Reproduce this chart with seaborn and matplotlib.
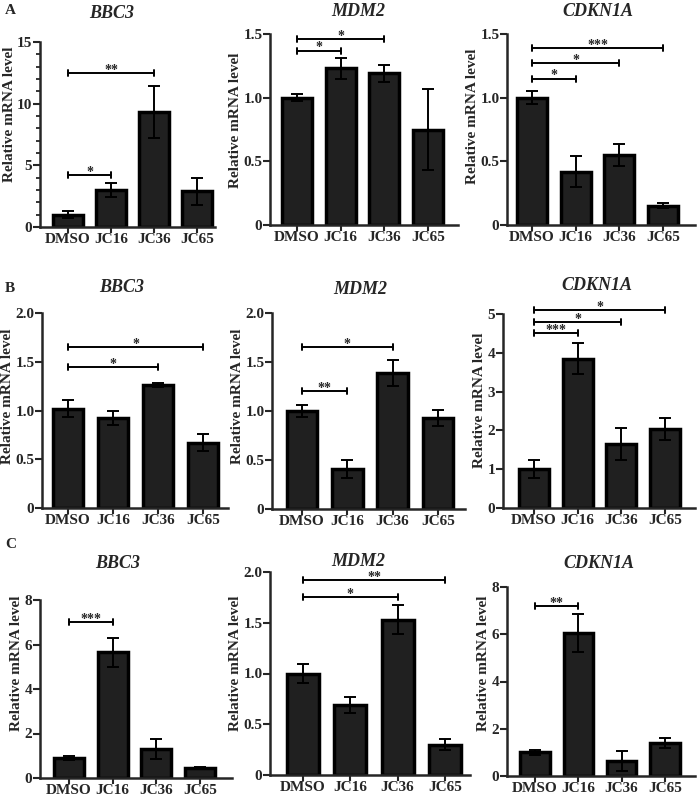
import numpy as np
import pandas as pd
import matplotlib
matplotlib.use('Agg')
import matplotlib.pyplot as plt
import seaborn as sns

sns.set_style('ticks')
plt.rcParams['font.family'] = ['Liberation Serif', 'DejaVu Serif']
plt.rcParams['font.weight'] = 'bold'
#----------------------------------------------------------------------------------------------------------------
groups = ['DMSO', 'JC16', 'JC36', 'JC65']
genes = ['BBC3', 'MDM2', 'CDKN1A']
rows = ['A', 'B', 'C']

# mean values per panel (row, gene)
means_A = [[1.0, 3.0, 9.3, 2.9], [1.0, 1.23, 1.19, 0.75], [1.0, 0.42, 0.55, 0.15]]
errs_A = [[0.3, 0.55, 2.1, 1.1], [0.03, 0.08, 0.07, 0.32], [0.05, 0.12, 0.09, 0.02]]
means_B = [[1.02, 0.92, 1.26, 0.67], [1.0, 0.41, 1.39, 0.93], [1.0, 3.85, 1.65, 2.03]]
errs_B = [[0.09, 0.07, 0.02, 0.09], [0.06, 0.09, 0.13, 0.08], [0.23, 0.4, 0.4, 0.28]]
means_C = [[0.9, 5.65, 1.3, 0.45], [1.0, 0.69, 1.53, 0.3], [1.0, 6.05, 0.62, 1.4]]
errs_C = [[0.1, 0.65, 0.45, 0.05], [0.09, 0.08, 0.14, 0.05], [0.1, 0.8, 0.42, 0.2]]

# significance: (target group index, bracket height, label)
sig_A = [[(1, 4.2, '*'), (2, 12.5, '**')],
         [(1, 1.37, '*'), (2, 1.46, '*')],
         [(1, 1.15, '*'), (2, 1.27, '*'), (3, 1.39, '***')]]
sig_B = [[(2, 1.45, '*'), (3, 1.65, '*')],
         [(1, 1.2, '**'), (2, 1.65, '*')],
         [(1, 4.5, '***'), (2, 4.8, '*'), (3, 5.1, '*')]]
sig_C = [[(1, 7.0, '***')],
         [(2, 1.75, '*'), (3, 1.92, '**')],
         [(1, 7.2, '**')]]

ymax_A = [15, 1.5, 1.5]
ystep_A = [5, 0.5, 0.5]
ymax_B = [2.0, 2.0, 5]
ystep_B = [0.5, 0.5, 1]
ymax_C = [8, 2.0, 8]
ystep_C = [2, 0.5, 2]
#----------------------------------------------------------------------------------------------------------------
# layout in pixels: left, right, top, bottom of each axes
W, H = 700, 798
boxes = {
    'A': [(40, 215, 42, 227), (270, 458, 34, 225), (507, 695, 34, 225)],
    'B': [(42, 228, 313, 508), (272, 465, 313, 509), (503, 695, 314, 508)],
    'C': [(40, 232, 600, 778), (270, 470, 572, 775), (507, 695, 587, 776)],
}
title_xy = {'A': [(112, 13), (358, 12), (598, 12)],
            'B': [(122, 287), (360, 290), (597, 285)],
            'C': [(118, 563), (358, 561), (599, 563)]}
ylabel_y = {'A': [114, 120, 116], 'B': [396, 396, 400], 'C': [663, 663, 663]}
letter_y = {'A': 10, 'B': 288, 'C': 545}
first_center = {'A': [68, 297, 532], 'B': [68, 302, 534], 'C': [69, 303, 535]}
last_center = {'A': [197, 428, 663], 'B': [203, 438, 665], 'C': [200, 445, 665]}

data = {
    'A': (means_A, errs_A, sig_A, ymax_A, ystep_A),
    'B': (means_B, errs_B, sig_B, ymax_B, ystep_B),
    'C': (means_C, errs_C, sig_C, ymax_C, ystep_C),
}

fig = plt.figure(figsize=(W / 100, H / 100), dpi=100)

for r in rows:
    means, errs, sigs, ymaxs, ysteps = data[r]
    fig.text(5 / W, 1 - letter_y[r] / H, r, fontsize=11, fontweight='bold', va='center', ha='left')
    for g, gene in enumerate(genes):
        left, right, top, bottom = boxes[r][g]
        ax = fig.add_axes([left / W, 1 - bottom / H, (right - left) / W, (bottom - top) / H])
        df = pd.DataFrame({'group': groups, 'value': means[g], 'err': errs[g]})
        sns.barplot(data=df, x='group', y='value', color='#202020', errorbar=None,
                    width=0.68, edgecolor='black', linewidth=2.5, saturation=1, ax=ax)
        ax.errorbar(np.arange(4), df['value'], yerr=df['err'], fmt='none',
                    ecolor='black', elinewidth=1.4, capsize=4, capthick=1.4, zorder=5)

        sp = (last_center[r][g] - first_center[r][g]) / 3
        ax.set_xlim((left - first_center[r][g]) / sp, (right - first_center[r][g]) / sp)
        ax.set_ylim(0, ymaxs[g])
        ticks = np.arange(0, ymaxs[g] + 1e-9, ysteps[g])
        ax.set_yticks(ticks)
        if ysteps[g] < 1:
            ax.set_yticklabels(['0' if t == 0 else f'{t:.1f}' for t in ticks])
        else:
            ax.set_yticklabels([f'{int(t)}' for t in ticks])
        if r == 'A' and g == 0:
            ax.set_yticks(np.arange(0, 16, 1), minor=True)
            ax.tick_params(axis='y', which='minor', length=3, width=1.3)

        # significance brackets
        d = 3.0 / (bottom - top) * ymaxs[g]
        for tgt, yb, lab in sigs[g]:
            ax.plot([0, tgt], [yb, yb], color='black', lw=1.4, clip_on=False)
            for xe in (0, tgt):
                ax.plot([xe, xe], [yb - d, yb + d], color='black', lw=1.4, clip_on=False)
            ax.text(tgt / 2, yb - d * 0.3, lab, ha='center', va='baseline',
                    fontsize=10, fontweight='bold')

        sns.despine(ax=ax)
        ax.spines['left'].set_linewidth(1.8)
        ax.spines['bottom'].set_linewidth(1.8)
        ax.tick_params(axis='y', which='major', length=5, width=1.5, labelsize=11, pad=0.5)
        ax.tick_params(axis='x', which='major', length=4, width=1.5, labelsize=11, pad=0)
        ax.set_xlabel('')
        ax.set_ylabel('Relative mRNA level', fontsize=11, fontweight='bold', labelpad=1)
        ax.yaxis.label.set_y((bottom - ylabel_y[r][g]) / (bottom - top))
        for lbl in ax.get_xticklabels() + ax.get_yticklabels():
            lbl.set_fontweight('bold')
        tx, ty = title_xy[r][g]
        fig.text(tx / W, 1 - ty / H, gene, fontsize=13, fontweight='bold', style='italic',
                 ha='center', va='center')

fig.savefig('out.png', dpi=100)
